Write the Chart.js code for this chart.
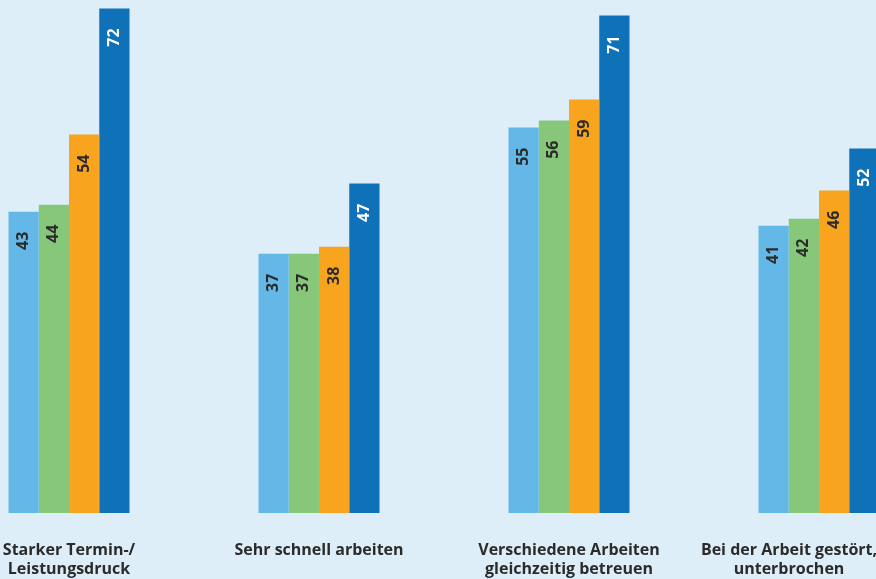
<!DOCTYPE html>
<html>
<head>
<meta charset="utf-8">
<script src="https://cdn.jsdelivr.net/npm/chart.js@4/dist/chart.umd.min.js"></script>
<style>
  html, body { margin: 0; padding: 0; background: #ddeef9; overflow: hidden; }
  #wrap { position: absolute; left: -56px; top: 0; width: 1000px; height: 579px; }
</style>
</head>
<body>
<div id="wrap"><canvas id="c" width="1000" height="579"></canvas></div>
<script>
const categories = [
  ["Starker Termin-/", "Leistungsdruck"],
  "Sehr schnell arbeiten",
  ["Verschiedene Arbeiten", "gleichzeitig betreuen"],
  ["Bei der Arbeit gestört,", "unterbrochen"]
];
const series1 = [43, 37, 55, 41];
const series2 = [44, 37, 56, 42];
const series3 = [54, 38, 59, 46];
const series4 = [72, 47, 71, 52];

const colors = ["#63b8e8", "#86c77a", "#f8a41e", "#0f72b9"];
const labelColors = ["#2b2b2b", "#2b2b2b", "#2b2b2b", "#ffffff"];
const FONT = "'Open Sans', Lato, sans-serif";

// Value labels written vertically inside the top of each bar
const barValueLabels = {
  id: "barValueLabels",
  afterDatasetsDraw(chart) {
    const ctx = chart.ctx;
    chart.data.datasets.forEach((ds, di) => {
      const meta = chart.getDatasetMeta(di);
      meta.data.forEach((bar, i) => {
        ctx.save();
        ctx.translate(bar.x, bar.y + 20);
        ctx.rotate(-Math.PI / 2);
        ctx.font = "bold 16px " + FONT;
        ctx.fillStyle = labelColors[di];
        ctx.textAlign = "right";
        ctx.textBaseline = "middle";
        ctx.fillText(String(ds.data[i]), 0, 0);
        ctx.restore();
      });
    });
  }
};

// Keep the last category label inside the visible edge
const keepLastLabelInside = {
  id: "keepLastLabelInside",
  beforeDraw(chart) {
    const items = chart.scales.x.getLabelItems();
    const last = items[items.length - 1];
    if (last && !last._shifted) {
      last.options.translation[0] -= 30;
      last._shifted = true;
    }
  }
};

new Chart(document.getElementById("c"), {
  type: "bar",
  data: {
    labels: categories,
    datasets: [series1, series2, series3, series4].map((d, i) => ({
      data: d,
      backgroundColor: colors[i],
      borderWidth: 0,
      categoryPercentage: 0.484,
      barPercentage: 1
    }))
  },
  options: {
    responsive: false,
    animation: false,
    devicePixelRatio: 1,
    layout: { padding: 0 },
    plugins: { legend: { display: false }, tooltip: { enabled: false } },
    scales: {
      x: {
        grid: { display: false },
        border: { display: false },
        ticks: {
          color: "#2b2b2b",
          font: { family: FONT, size: 16, weight: "bold", lineHeight: 1.19 },
          padding: 20,
          maxRotation: 0,
          autoSkip: false
        },
        afterFit(scale) { scale.height = 66; }
      },
      y: {
        display: false,
        min: 0,
        max: 73.2
      }
    }
  },
  plugins: [barValueLabels, keepLastLabelInside]
});
</script>
</body>
</html>
